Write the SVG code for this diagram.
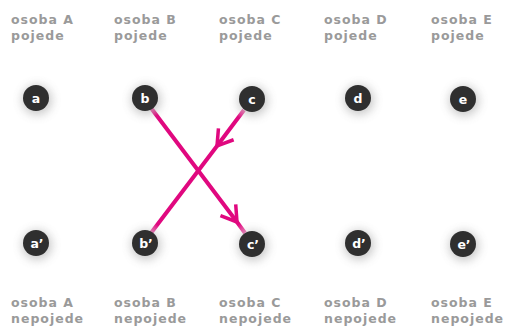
<svg xmlns="http://www.w3.org/2000/svg" width="507" height="329" viewBox="0 0 507 329">
  <style>
    .lbl { font-family: "DejaVu Sans", Verdana, sans-serif; font-weight: bold; font-size: 12.5px; fill: #9a9a9a; letter-spacing: 1px; }
    .dot { fill: #2f2f2f; }
    .halo { fill: #8a8a8a; opacity: 0.45; filter: url(#soft); }
    .nt { font-family: "DejaVu Sans", Verdana, sans-serif; font-weight: bold; font-size: 12.5px; fill: #ffffff; text-anchor: middle; }
    .edge { fill: none; stroke-width: 4; stroke-linecap: butt; marker-mid: url(#chev); }
  </style>
  <defs>
    <filter id="soft" x="-1" y="-1" width="3" height="3">
      <feGaussianBlur stdDeviation="5"/>
    </filter>
    <marker id="chev" viewBox="-18 -12 20 24" markerWidth="20" markerHeight="24" refX="0" refY="0" orient="auto" markerUnits="userSpaceOnUse">
      <path d="M-15,-9.5 L0,0 L-15,9.5" fill="none" stroke="#e0087f" stroke-width="3.5" stroke-linejoin="miter"/>
    </marker>
    <linearGradient id="g1" gradientUnits="userSpaceOnUse" x1="151" y1="108" x2="245" y2="233">
      <stop offset="0" stop-color="#ee7fba"/>
      <stop offset="0.06" stop-color="#e0087f"/>
      <stop offset="0.93" stop-color="#e0087f"/>
      <stop offset="1" stop-color="#ee7fba"/>
    </linearGradient>
    <linearGradient id="g2" gradientUnits="userSpaceOnUse" x1="244" y1="110" x2="151" y2="233">
      <stop offset="0" stop-color="#ee7fba"/>
      <stop offset="0.06" stop-color="#e0087f"/>
      <stop offset="0.93" stop-color="#e0087f"/>
      <stop offset="1" stop-color="#ee7fba"/>
    </linearGradient>
  </defs>

  <!-- column headings -->
  <g id="labels-top">
    <text class="lbl" x="11" y="24">osoba A</text><text class="lbl" x="11" y="40">pojede</text>
    <text class="lbl" x="114" y="24">osoba B</text><text class="lbl" x="114" y="40">pojede</text>
    <text class="lbl" x="219" y="24">osoba C</text><text class="lbl" x="219" y="40">pojede</text>
    <text class="lbl" x="324" y="24">osoba D</text><text class="lbl" x="324" y="40">pojede</text>
    <text class="lbl" x="431" y="24">osoba E</text><text class="lbl" x="431" y="40">pojede</text>
  </g>
  <g id="labels-bottom">
    <text class="lbl" x="11" y="307">osoba A</text><text class="lbl" x="11" y="323">nepojede</text>
    <text class="lbl" x="114" y="307">osoba B</text><text class="lbl" x="114" y="323">nepojede</text>
    <text class="lbl" x="219" y="307">osoba C</text><text class="lbl" x="219" y="323">nepojede</text>
    <text class="lbl" x="324" y="307">osoba D</text><text class="lbl" x="324" y="323">nepojede</text>
    <text class="lbl" x="431" y="307">osoba E</text><text class="lbl" x="431" y="323">nepojede</text>
  </g>

  <!-- connectors -->
  <g id="connectors">
    <path class="edge" stroke="url(#g1)" d="M151,108 L237,222 L245,233"/>
    <path class="edge" stroke="url(#g2)" d="M244,110 L217,146 L151,233"/>
  </g>

  <!-- nodes -->
  <g id="node-a"><circle class="halo" cx="37" cy="100" r="15"/><circle class="dot" cx="36" cy="98" r="13"/><text class="nt" x="36" y="102.5">a</text></g>
  <g id="node-b"><circle class="halo" cx="146" cy="100" r="15"/><circle class="dot" cx="145" cy="98" r="13"/><text class="nt" x="145" y="102.5">b</text></g>
  <g id="node-c"><circle class="halo" cx="253" cy="101" r="15"/><circle class="dot" cx="252" cy="99" r="13"/><text class="nt" x="252" y="103.5">c</text></g>
  <g id="node-d"><circle class="halo" cx="359" cy="100" r="15"/><circle class="dot" cx="358" cy="98" r="13"/><text class="nt" x="358" y="102.5">d</text></g>
  <g id="node-e"><circle class="halo" cx="464" cy="101" r="15"/><circle class="dot" cx="463" cy="99" r="13"/><text class="nt" x="463" y="103.5">e</text></g>

  <g id="node-a2"><circle class="halo" cx="37" cy="245" r="15"/><circle class="dot" cx="36" cy="243" r="13"/><text class="nt" x="37" y="247.5">a’</text></g>
  <g id="node-b2"><circle class="halo" cx="146" cy="245" r="15"/><circle class="dot" cx="145" cy="243" r="13"/><text class="nt" x="146" y="247.5">b’</text></g>
  <g id="node-c2"><circle class="halo" cx="253" cy="246" r="15"/><circle class="dot" cx="252" cy="244" r="13"/><text class="nt" x="253" y="248.5">c’</text></g>
  <g id="node-d2"><circle class="halo" cx="359" cy="245" r="15"/><circle class="dot" cx="358" cy="243" r="13"/><text class="nt" x="359" y="247.5">d’</text></g>
  <g id="node-e2"><circle class="halo" cx="464" cy="246" r="15"/><circle class="dot" cx="463" cy="244" r="13"/><text class="nt" x="464" y="248.5">e’</text></g>
</svg>
